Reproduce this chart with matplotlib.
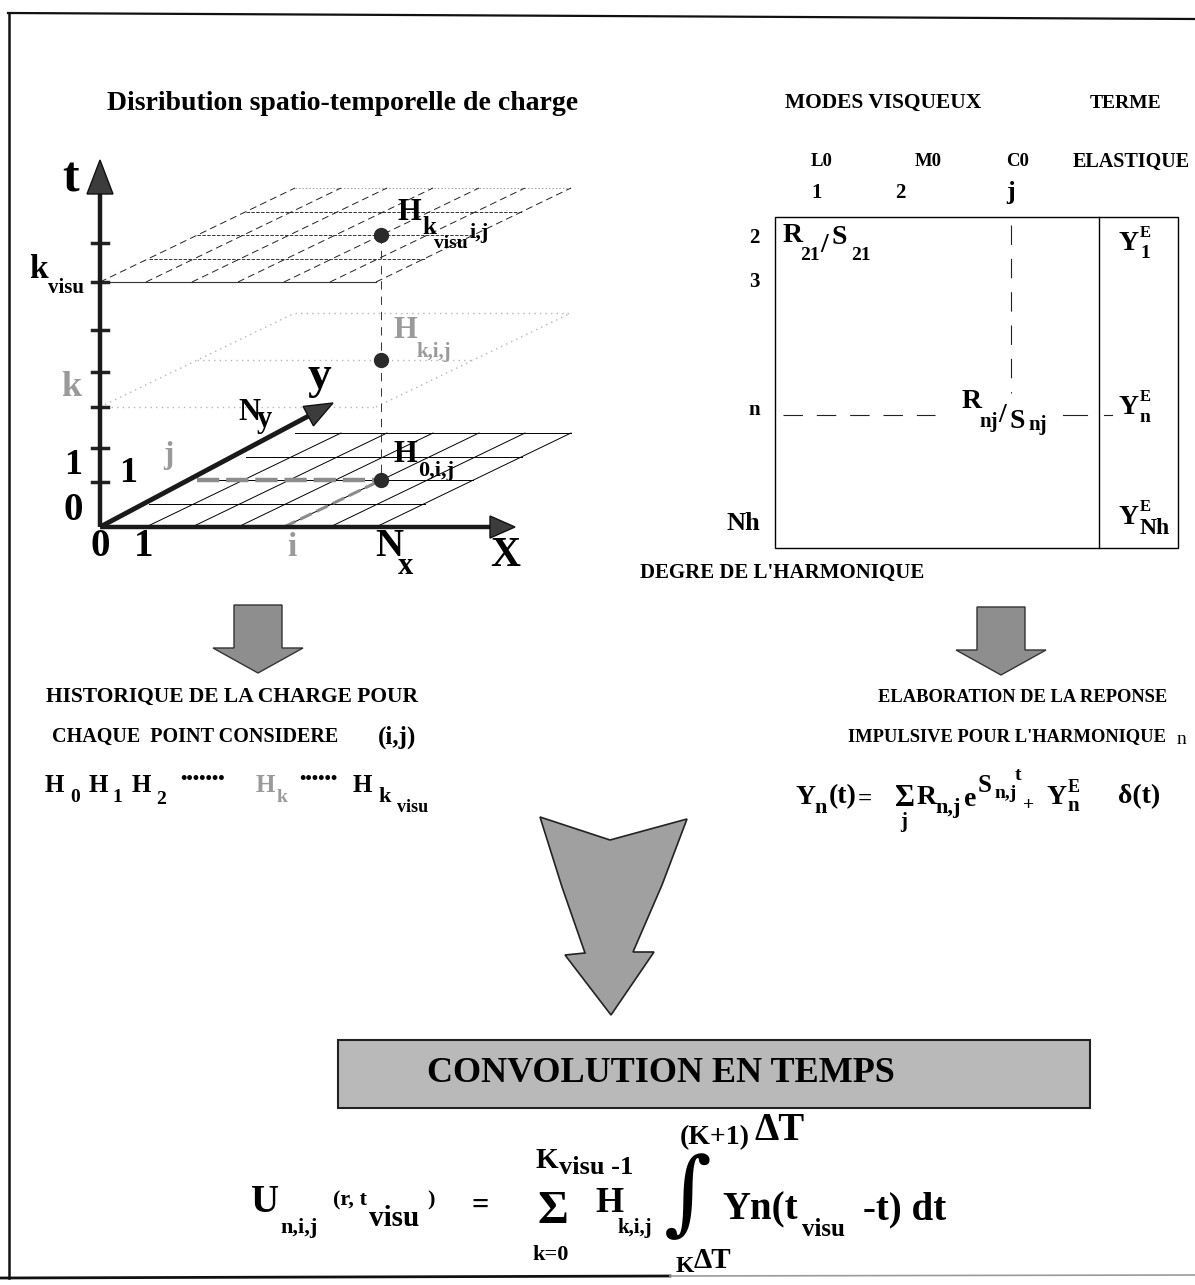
import numpy as np
import matplotlib.pyplot as plt
from matplotlib.patches import Polygon, Rectangle

plt.rcParams['lines.scale_dashes'] = False

SERIF = ['Liberation Serif', 'DejaVu Serif']
GRAY_TXT = '#9a9a9a'

# --- diagram content -------------------------------------------------------
GRID_COLS = 6            # cells along x
GRID_ROWS = 4            # cells along y
PLANE_NAMES = ['0', 'k', 'kvisu']
PLANE_LIFT = [0, 120, 245]           # height of each time plane above t=0
POINT_IJ = (4, 2)                    # highlighted (i, j) node
T_TICK_LIFT = [45, 79, 120, 155, 197, 245, 284]

MODE_NAMES = ['L0', 'M0', 'C0']
MODE_INDEX = ['1', '2', 'j']
HARMONIC_ROWS = ['2', '3', 'n', 'Nh']
ELASTIC_SUBS = ['1', 'n', 'Nh']

# --- figure in pixel coordinates ------------------------------------------
fig = plt.figure(figsize=(11.95, 12.85), dpi=100)
ax = fig.add_axes([0, 0, 1, 1])
ax.set_xlim(0, 1195)
ax.set_ylim(1285, 0)
ax.axis('off')

OX, OY = 100, 527
COL_W = 46
ROW_DX, ROW_DY = 48.75, 23.5


def proj(i, j, lift=0):
    return OX + i * COL_W + j * ROW_DX, OY - j * ROW_DY - lift


def seg(p, q, **kw):
    ax.plot([p[0], q[0]], [p[1], q[1]], **kw)


def txt(x, y, s, fs, color='black', ha='left', va='center', weight='bold', family=SERIF):
    ax.text(x, y, s, fontsize=fs, color=color, ha=ha, va=va,
            fontweight=weight, family=family)


def arrow(x0, y0, x1, y1, lw, head_len, head_w):
    dx, dy = x1 - x0, y1 - y0
    L = np.hypot(dx, dy)
    ux, uy = dx / L, dy / L
    bx, by = x1 - ux * head_len, y1 - uy * head_len
    ax.plot([x0, bx], [y0, by], color='#1a1a1a', lw=lw, solid_capstyle='butt', zorder=4)
    nx, ny = -uy, ux
    ax.add_patch(Polygon([(x1, y1), (bx + nx * head_w, by + ny * head_w),
                          (bx - nx * head_w, by - ny * head_w)],
                         closed=True, fc='#3c3c3c', ec='#111111', lw=1, zorder=4))


def down_arrow(cx, top):
    pts = [(cx - 24, top), (cx + 24, top), (cx + 24, top + 43), (cx + 45, top + 43),
           (cx, top + 68), (cx - 45, top + 43), (cx - 24, top + 43)]
    ax.add_patch(Polygon(pts, closed=True, fc='#8e8e8e', ec='#333333', lw=1))


# page frame
seg((8, 13), (1195, 19), color='#111111', lw=1.6)
seg((9, 13), (9, 1278), color='#111111', lw=1.8)
seg((0, 1278), (670, 1276), color='#111111', lw=2)
seg((670, 1276), (1195, 1275), color='#9a9a9a', lw=1.2)

# --- left: spatio-temporal grid ------------------------------------------
txt(343, 103, 'Disribution spatio-temporelle de charge', 20, ha='center')

for name, lift in zip(PLANE_NAMES, PLANE_LIFT):
    if name == '0':
        row_kw = col_kw = edge_kw = base_kw = dict(color='black', lw=0.7)
    elif name == 'k':
        row_kw = col_kw = edge_kw = base_kw = dict(color='#b5b5b5', lw=1.0, ls=(0, (1, 3)))
    else:
        base_kw = dict(color='#333333', lw=0.8)
        row_kw = dict(color='#333333', lw=0.7, ls=(0, (2.5, 1)))
        col_kw = dict(color='#222222', lw=0.7, ls=(0, (5, 3)))
        edge_kw = dict(color='#999999', lw=0.7, ls=(0, (1, 1.5)))
    for r in range(GRID_ROWS + 1):
        if name == '0' and r == 0:
            continue
        if name == 'k' and r not in (0, POINT_IJ[1], GRID_ROWS):
            continue
        kw = edge_kw if r == GRID_ROWS else (base_kw if r == 0 else row_kw)
        seg(proj(0, r, lift), proj(GRID_COLS, r, lift), **kw)
    for c in range(GRID_COLS + 1):
        if name == '0' and c == 0:
            continue
        if name == 'k' and c not in (0, GRID_COLS):
            continue
        seg(proj(c, 0, lift), proj(c, GRID_ROWS, lift), **col_kw)

pi, pj = POINT_IJ
seg(proj(pi, pj, PLANE_LIFT[-1]), proj(pi, pj, 0), color='#333333', lw=0.7, ls=(0, (6, 5)))
seg(proj(0, pj), proj(pi, pj), color='#8c8c8c', lw=3.2, ls=(0, (16, 5)), zorder=3)
seg(proj(pi, 0), proj(pi, pj), color='#8c8c8c', lw=2.2, ls=(0, (9, 4)), zorder=3)
pts = [proj(pi, pj, lift) for lift in PLANE_LIFT]
ax.plot([p[0] for p in pts], [p[1] for p in pts], 'o', ms=10, color='#2a2a2a', zorder=5)

# axes
arrow(OX, OY, OX, 160, 3.2, 34, 13)
arrow(OX, OY, 515, OY, 3.2, 25, 11)
arrow(OX, OY, 333, 403, 3.5, 28, 11)
for lift in T_TICK_LIFT:
    seg((OX - 8, OY - lift), (OX + 8, OY - lift), color='#222222', lw=2.5)

txt(71, 180, 't', 36, ha='center')
txt(29, 270, 'k', 24)
txt(48, 288, 'visu', 15)
txt(71, 388, 'k', 26, color=GRAY_TXT, ha='center')
txt(73, 466, '1', 26, ha='center')
txt(73, 510, '0', 28, ha='center')
txt(128, 473, '1', 26, ha='center')
txt(168, 455, 'j', 22, color=GRAY_TXT, ha='center')
txt(319, 377, 'y', 34, ha='center')
txt(238, 413, 'N', 22)
txt(257, 420, 'y', 22)
txt(100, 546, '0', 28, ha='center')
txt(144, 546, '1', 28, ha='center')
txt(292, 547, 'i', 24, color=GRAY_TXT, ha='center')
txt(375, 546, 'N', 28)
txt(398, 567, 'x', 22)
txt(505, 556, 'X', 30, ha='center')

txt(398, 213, 'H', 22)
txt(422, 228, 'k', 18)
txt(434, 244, 'visu', 14)
txt(470, 233, 'i,j', 16)
txt(394, 331, 'H', 22, color=GRAY_TXT)
txt(416, 352, 'k,i,j', 15, color=GRAY_TXT)
txt(394, 454, 'H', 22)
txt(418, 471, '0,i,j', 16)

# --- right: residue matrix ------------------------------------------------
txt(785, 103, 'MODES VISQUEUX', 15.5)
txt(1090, 103, 'TERME', 14)
txt(1073, 162, 'ELASTIQUE', 14.5)
for name, x in zip(MODE_NAMES, [822, 928, 1018]):
    txt(x, 162, name, 13.5, ha='center')
for idx, x in zip(MODE_INDEX, [817, 900, 1011]):
    txt(x, 193, idx, 19 if idx == 'j' else 15, ha='center')

ax.add_patch(Rectangle((775, 217), 403, 331, fill=False, ec='black', lw=1.0))
seg((1099, 217), (1099, 548), color='black', lw=1.0)

for lab, y in zip(HARMONIC_ROWS, [238, 282, 410, 523]):
    txt(760, y, lab, 19 if lab == 'Nh' else 15, ha='right')

seg((1011, 225), (1011, 393), color='#222222', lw=0.8, ls=(0, (14, 10)))
seg((783, 415), (935, 415), color='#222222', lw=0.8, ls=(0, (14, 10)))
seg((1063, 415), (1087, 415), color='#222222', lw=0.8)
seg((1104, 415), (1112, 415), color='#222222', lw=0.8)

txt(783, 236, 'R', 20)
txt(800, 256, '21', 14)
txt(820, 245, '/', 20)
txt(832, 238, 'S', 20)
txt(851, 256, '21', 14)
txt(962, 401, 'R', 20)
txt(979, 422, 'nj', 15)
txt(998, 415, '/', 20)
txt(1010, 422, 'S', 20)
txt(1028, 425, 'nj', 15)

for sub, y in zip(ELASTIC_SUBS, [243, 407, 517]):
    txt(1119, y, 'Y', 20)
    txt(1140, y - 10, 'E', 12)
    txt(1140, y + 11, sub, 17 if sub == 'Nh' else 14)

txt(640, 573, "DEGRE DE L'HARMONIQUE", 15)

# --- middle: arrows and captions -------------------------------------------
down_arrow(258, 605)
down_arrow(1001, 607)

txt(46, 697, 'HISTORIQUE DE LA CHARGE POUR', 15.5)
txt(52, 737, 'CHAQUE  POINT CONSIDERE', 14.5)
txt(378, 737, '(i,j)', 18)
txt(878, 697, 'ELABORATION DE LA REPONSE', 13.3)
txt(848, 737, "IMPULSIVE POUR L'HARMONIQUE", 13.3)
txt(1186, 739, 'n', 14, ha='right', weight='normal')

# history of the load
txt(45, 786, 'H', 18)
txt(70, 797, '0', 14)
txt(89, 786, 'H', 18)
txt(112, 797, '1', 14)
txt(132, 786, 'H', 18)
txt(156, 799, '2', 14)
txt(180, 779, '•••••••', 13)
txt(256, 786, 'H', 18, color=GRAY_TXT)
txt(277, 797, 'k', 14, color=GRAY_TXT)
txt(299, 779, '••••••', 13)
txt(353, 786, 'H', 18)
txt(378, 797, 'k', 16)
txt(397, 808, 'visu', 13)

# impulse response
txt(796, 797, 'Y', 20)
txt(814, 808, 'n', 16)
txt(829, 797, '(t)', 20)
txt(858, 799, '=', 18)
txt(895, 799, 'Σ', 22)
txt(904, 822, 'j', 15, ha='center')
txt(917, 797, 'R', 20)
txt(935, 808, 'n,j', 16)
txt(964, 799, 'e', 20)
txt(978, 785, 'S', 18)
txt(995, 793, 'n,j', 14)
txt(1015, 775, 't', 14)
txt(1023, 805, '+', 14)
txt(1047, 797, 'Y', 20)
txt(1068, 787, 'E', 13)
txt(1067, 806, 'n', 15)
txt(1118, 797, 'δ(t)', 20)

# big arrow
big = [(540, 817), (562, 887), (585, 953), (565, 955), (611, 1015), (654, 952),
       (633, 952), (662, 885), (687, 819), (610, 840)]
ax.add_patch(Polygon(big, closed=True, fc='#a0a0a0', ec='#222222', lw=1.2))

# --- bottom: time convolution ---------------------------------------------
ax.add_patch(Rectangle((338, 1040), 752, 68, fc='#b9b9b9', ec='#222222', lw=1.5))
txt(661, 1074, 'CONVOLUTION EN TEMPS', 26, ha='center')

txt(251, 1203, 'U', 28)
txt(280, 1228, 'n,i,j', 16)
txt(333, 1200, '(r, t', 16)
txt(369, 1218, 'visu', 21)
txt(427, 1200, ')', 16)
txt(472, 1206, '=', 22)
txt(553, 1212, 'Σ', 34, ha='center')
txt(536, 1160, 'K', 21)
txt(559, 1167, 'visu -1', 19)
txt(551, 1255, 'k=0', 16, ha='center')
txt(595, 1203, 'H', 26)
txt(617, 1228, 'k,i,j', 15)
txt(688, 1198, '∫', 66, ha='center', weight='normal', family=['DejaVu Serif'])
txt(680, 1138, '(K+1)', 20)
txt(755, 1130, 'ΔT', 28)
txt(676, 1266, 'K', 17)
txt(694, 1261, 'ΔT', 21)
txt(722, 1210, 'Yn(t', 28)
txt(802, 1230, 'visu', 18)
txt(863, 1210, '-t) dt', 28)

fig.savefig('out.png', dpi=100, facecolor='white')
